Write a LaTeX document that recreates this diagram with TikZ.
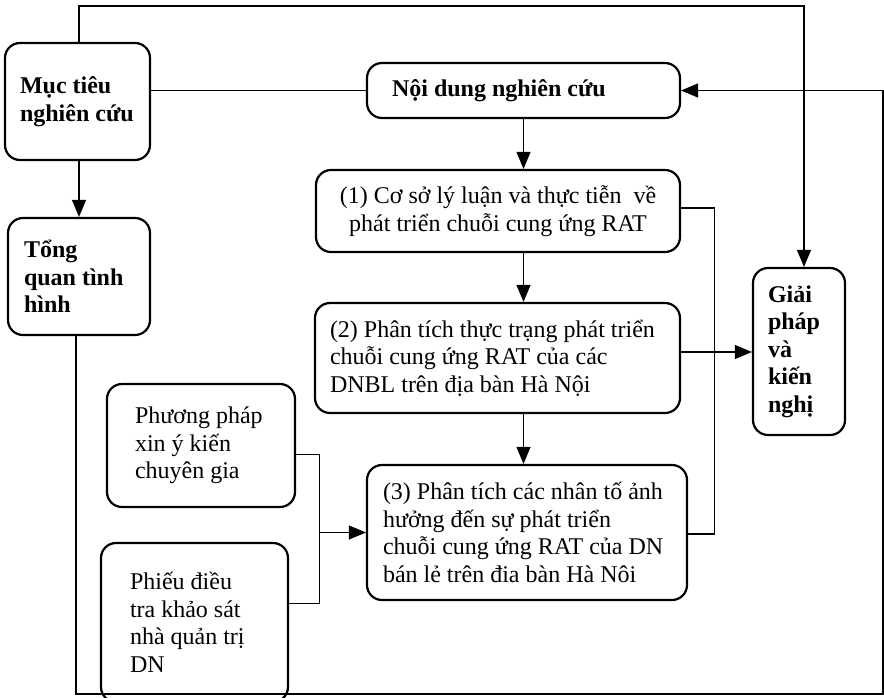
\documentclass[tikz,border=0pt]{standalone}
\usepackage{fontspec}
\setmainfont{Liberation Serif}
\usetikzlibrary{arrows.meta,calc}
\tikzset{
  box/.style={draw,line width=2.2pt,rounded corners=15pt,inner sep=2pt,align=flush left,
    font=\fontsize{24}{27.5}\selectfont},
  boldbox/.style={box,font=\fontsize{24}{27.5}\selectfont\bfseries},
  arr/.style={-{Triangle[length=17pt,width=14pt]}},
  conn/.style={line width=1.1pt}
}

\begin{document}
\begin{tikzpicture}[x=1pt,y=-1pt,conn]
    \useasboundingbox (0,0) rectangle (884,697);
    % left column
    \node[boldbox,minimum width=145,minimum height=117,text width=115] (mt) at (77.5,101.5)
        {Mục tiêu\\ nghiên cứu};
    \node[boldbox,minimum width=142,minimum height=117,text width=110] (tq) at (79,276.5)
        {Tổng\\ quan tình\\ hình};
    % middle column
    \node[boldbox,minimum width=313,minimum height=55,text width=263] (nd) at (523.5,90.5)
        {Nội dung nghiên cứu};
    \node[box,minimum width=364,minimum height=82,text width=340,align=flush center] (b1) at (498,211)
        {(1) Cơ sở lý luận và thực tiễn~ về\\ phát triển chuỗi cung ứng RAT};
    \node[box,minimum width=365,minimum height=110,text width=335] (b2) at (497.5,358)
        {(2) Phân tích thực trạng phát triển\\ chuỗi cung ứng RAT của các\\ DNBL trên địa bàn Hà Nội};
    \node[box,minimum width=320,minimum height=135,text width=288] (b3) at (527,532.5)
        {(3) Phân tích các nhân tố ảnh\\ hưởng đến sự phát triển\\ chuỗi cung ứng RAT của DN\\ bán lẻ trên đia bàn Hà Nôi};
    % right column
    \node[boldbox,minimum width=92,minimum height=167,text width=62] (gp) at (799,351.5)
        {Giải\\ pháp\\ và\\ kiến\\ nghị};
    % methods
    \node[box,minimum width=188,minimum height=123,text width=132] (pp) at (201,445.5)
        {Phương pháp\\ xin ý kiến\\ chuyên gia};
    \node[box,minimum width=187,minimum height=159,text width=129] (pf) at (194.5,622.5)
        {Phiếu điều\\ tra khảo sát\\ nhà quản trị\\ DN};

    \coordinate (top) at (804,6);
    \coordinate (botrt) at (883,694);
    \coordinate (jn) at ($(b3.west)+(-46,0)$);

    \draw[arr] (mt.north -| tq.south) |- (top) -- (top |- gp.north);
    \draw (nd.west -| mt.east) -- (nd.west);
    \draw[arr] (mt.south -| tq.south) -- (tq.north -| tq.south);
    \draw[arr] (nd.south) -- (nd.south |- b1.north);
    \draw[arr] (nd.south |- b1.south) -- (nd.south |- b2.north);
    \draw[arr] (nd.south |- b2.south) -- (nd.south |- b3.north);
    \draw ([yshift=3pt]b1.east) -- ++(33,0) |- ([yshift=-1.5pt]b3.east);
    \draw[arr] ([yshift=6pt]b2.east) -- ([yshift=6pt]b2.east -| gp.west);
    \draw[arr] ([xshift=-3pt]tq.south) |- (botrt) |- (nd.east);
    \draw ([yshift=-9pt]pp.east) -| (jn) |- ([yshift=19pt]pf.east);
    \draw[arr] (jn) -- (b3.west);
\end{tikzpicture}
\end{document}
